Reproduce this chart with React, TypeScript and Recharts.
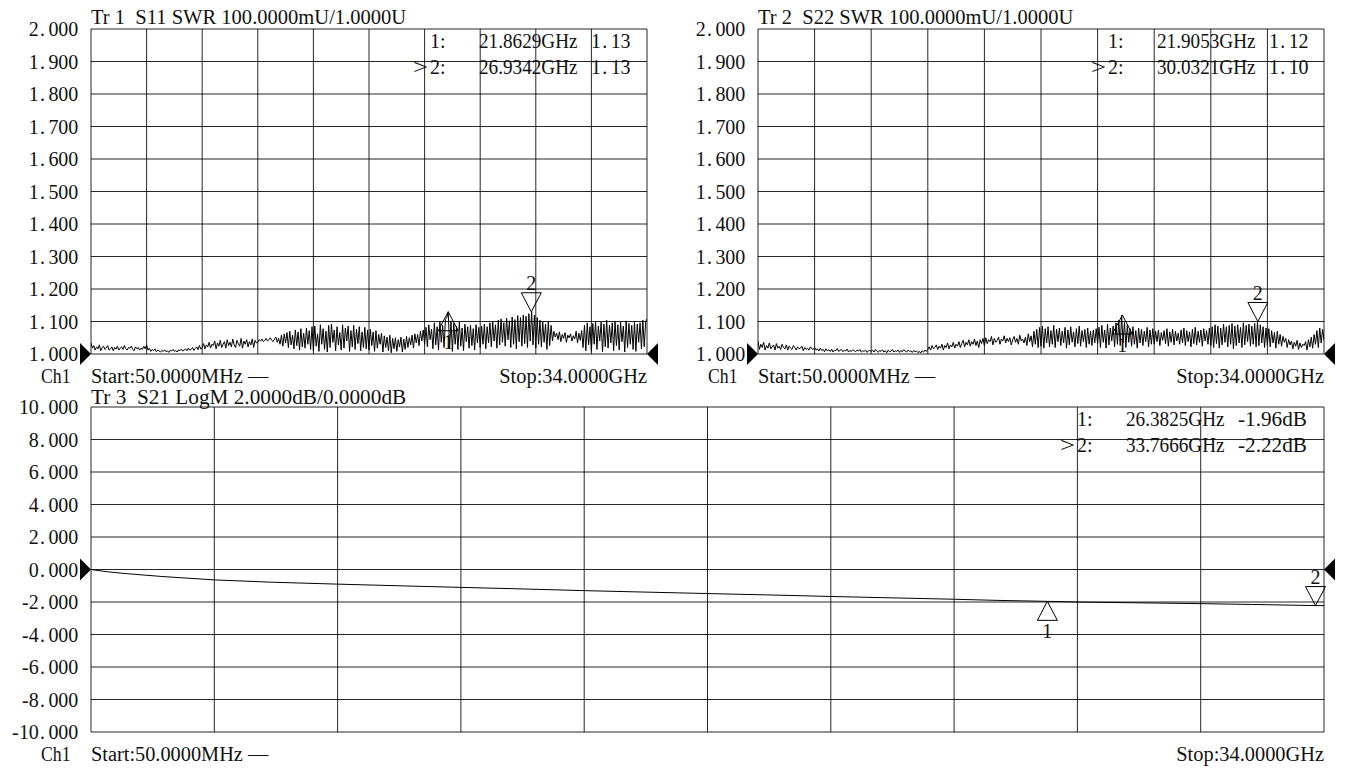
import React from "react";
import { LineChart, Line, XAxis, YAxis, CartesianGrid, ReferenceDot } from "recharts";

// sweep: 50 MHz .. 34 GHz, 401 points
const START_GHZ = 0.05;
const STOP_GHZ = 34;
const freqTicks = [0.05, 3.445, 6.84, 10.235, 13.63, 17.025, 20.42, 23.815, 27.21, 30.605, 34];
const swrTicks = [1.0, 1.1, 1.2, 1.3, 1.4, 1.5, 1.6, 1.7, 1.8, 1.9, 2.0];
const dbTicks = [-10, -8, -6, -4, -2, 0, 2, 4, 6, 8, 10];

// SWR minus 1, in thousandths, one value per sweep point (40 per division)
const s11Milli = [
  34, 18, 26, 12, 22, 16, 28, 10, 20, 24, 14, 18, 26, 12, 16, 22, 10, 20, 15, 24,
  12, 18, 22, 14, 26, 16, 12, 20, 18, 24, 14, 10, 22, 16, 20, 12, 18, 14, 24, 16,
  28, 12, 18, 8, 14, 10, 16, 7, 12, 9, 6, 11, 8, 13, 7, 10, 5, 12, 9, 14,
  8, 11, 6, 13, 10, 15, 9, 12, 16, 10, 18, 12, 14, 20, 11, 17, 22, 13, 26, 15,
  20, 32, 16, 28, 22, 36, 18, 30, 26, 40, 16, 34, 24, 42, 20, 30, 38, 18, 44, 26,
  36, 22, 46, 28, 20, 42, 32, 24, 48, 18, 40, 30, 44, 22, 38, 28, 46, 20, 42, 34,
  36, 44, 40, 46, 38, 42, 48, 40, 44, 50, 42, 38, 46, 52, 36, 48, 30, 58, 24, 62,
  34, 66, 20, 70, 28, 58, 16, 74, 26, 68, 12, 78, 22, 64, 18, 80, 30, 72, 14, 84,
  10, 86, 24, 62, 8, 90, 30, 78, 14, 70, 6, 88, 20, 92, 36, 74, 10, 84, 28, 66,
  12, 90, 18, 80, 40, 86, 8, 72, 22, 88, 14, 76, 32, 84, 10, 68, 20, 82, 16, 74,
  12, 76, 26, 68, 8, 72, 18, 60, 30, 64, 6, 56, 20, 52, 10, 58, 4, 48, 16, 50,
  8, 44, 22, 52, 6, 46, 14, 54, 20, 50, 28, 58, 18, 62, 34, 60, 26, 70, 40, 74,
  30, 82, 22, 90, 44, 76, 16, 96, 28, 84, 12, 100, 36, 88, 20, 106, 112, 130, 18, 102,
  8, 94, 30, 86, 14, 98, 24, 80, 10, 92, 38, 84, 18, 88, 26, 78, 12, 90, 34, 82,
  20, 86, 30, 92, 16, 84, 34, 96, 22, 100, 40, 90, 18, 104, 28, 108, 36, 96, 24, 110,
  44, 102, 20, 114, 30, 106, 16, 118, 38, 112, 24, 120, 32, 116, 20, 124, 40, 132, 28, 120,
  18, 112, 30, 104, 22, 98, 36, 92, 14, 100, 26, 88, 40, 70, 52, 64, 44, 68, 38, 60,
  48, 66, 36, 58, 50, 62, 40, 56, 46, 70, 34, 64, 42, 72, 20, 88, 10, 96, 28, 84,
  8, 94, 30, 100, 14, 86, 40, 98, 6, 92, 22, 104, 18, 88, 34, 96, 10, 100, 26, 90,
  12, 98, 38, 86, 6, 102, 20, 94, 30, 88, 14, 100, 8, 92, 36, 96, 16, 104, 22, 98,
  108,
];

const s22Milli = [
  40, 14, 30, 20, 36, 12, 26, 18, 34, 16, 22, 28, 12, 32, 18, 24, 14, 30, 20, 16,
  28, 12, 24, 18, 14, 26, 20, 12, 22, 16, 18, 24, 10, 20, 14, 18, 12, 22, 16, 14,
  20, 12, 16, 9, 18, 11, 14, 7, 16, 10, 13, 8, 15, 6, 12, 10, 17, 8, 11, 14,
  7, 12, 9, 15, 6, 11, 8, 13, 10, 7, 12, 9, 14, 6, 10, 8, 12, 5, 9, 11,
  8, 12, 6, 14, 9, 5, 11, 8, 13, 6, 10, 4, 12, 7, 9, 14, 6, 10, 8, 12,
  5, 11, 7, 13, 9, 6, 12, 8, 10, 5, 11, 7, 9, 4, 8, 3, 10, 6, 12, 8,
  14, 22, 12, 26, 16, 20, 28, 14, 24, 18, 30, 12, 26, 20, 34, 16, 28, 22, 36, 18,
  30, 24, 38, 20, 32, 42, 22, 36, 28, 44, 24, 38, 30, 46, 26, 40, 20, 44, 32, 48,
  26, 50, 32, 44, 38, 54, 28, 48, 36, 42, 52, 30, 46, 40, 56, 34, 48, 38, 50, 28,
  44, 54, 36, 48, 30, 58, 40, 46, 34, 52, 26, 62, 38, 56, 22, 70, 30, 76, 20, 82,
  24, 86, 18, 78, 34, 84, 22, 72, 30, 88, 20, 76, 38, 80, 26, 70, 34, 82, 18, 74,
  28, 84, 36, 68, 22, 78, 32, 86, 24, 72, 38, 76, 20, 80, 30, 70, 26, 74, 34, 78,
  32, 82, 20, 88, 36, 74, 18, 92, 28, 80, 40, 86, 22, 96, 30, 104, 26, 120, 34, 98,
  20, 90, 36, 78, 24, 84, 30, 72, 18, 80, 34, 76, 26, 70, 38, 82, 22, 74, 30, 78,
  30, 70, 38, 74, 26, 66, 42, 72, 32, 78, 24, 68, 36, 76, 28, 70, 40, 64, 30, 74,
  34, 80, 26, 72, 38, 68, 22, 76, 32, 82, 28, 70, 36, 74, 24, 78, 40, 72, 30, 80,
  26, 84, 20, 90, 32, 86, 18, 80, 28, 92, 36, 84, 22, 88, 30, 94, 16, 86, 26, 90,
  34, 82, 20, 96, 28, 88, 38, 92, 24, 86, 30, 94, 22, 100, 26, 90, 34, 84, 20, 80,
  28, 78, 22, 72, 34, 66, 18, 70, 30, 60, 24, 54, 36, 48, 20, 44, 28, 40, 16, 36,
  24, 42, 14, 34, 20, 30, 26, 38, 12, 44, 22, 52, 18, 60, 30, 72, 20, 80, 34, 76,
  42,
];

const s21Freq = [0.05, 0.5, 1, 2, 3.445, 5, 6.84, 8.5, 10.235, 12, 13.63, 15.5, 17.025, 19, 20.42, 22, 23.815, 25, 26.3825, 27.21, 28.5, 30.605, 32, 33.7666, 34];
const s21Db = [0, -0.14, -0.25, -0.43, -0.64, -0.78, -0.9, -1.0, -1.1, -1.2, -1.3, -1.4, -1.48, -1.58, -1.66, -1.74, -1.83, -1.9, -1.96, -2.0, -2.04, -2.1, -2.15, -2.22, -2.22];

const s11Markers = [
  { id: 1, f: 21.8629, v: 1.13 },
  { id: 2, f: 26.9342, v: 1.13 },
];
const s22Markers = [
  { id: 1, f: 21.9053, v: 1.12 },
  { id: 2, f: 30.0321, v: 1.1 },
];
const s21Markers = [
  { id: 1, f: 26.3825, v: -1.96 },
  { id: 2, f: 33.7666, v: -2.22 },
];

const FONT = '"Liberation Serif", "DejaVu Serif", serif';
const CH = 9.85; // width of one character cell on the analyzer screen
const INK = "#111";

const sweep = (vals: number[]) =>
  vals.map((m, i) => ({ f: START_GHZ + (i * (STOP_GHZ - START_GHZ)) / (vals.length - 1), v: 1 + m / 1000 }));

const s11Data = sweep(s11Milli);
const s22Data = sweep(s22Milli);
const s21Data = s21Freq.map((f, i) => ({ f, v: s21Db[i] }));

type Anchor = "start" | "middle" | "end";

// nudge narrow glyphs inside their cell
const cellShift = (c: string) => (c === "." || c === ":" ? 1.5 : c === "-" ? 3 : 0);

// text laid out in fixed character cells, like the analyzer's screen font
function Txt({ x, y, s, anchor = "start", len }: { x: number; y: number; s: string; anchor?: Anchor; len?: number }) {
  const common = { fontFamily: FONT, fontSize: 20, fill: INK, style: { whiteSpace: "pre" as const } };
  if (/^[-0-9.:]+$/.test(s) && s.length > 2) {
    const w = s.length * CH;
    const x0 = anchor === "end" ? x - w : anchor === "middle" ? x - w / 2 : x;
    const xs = s.split("").map((c, i) => (x0 + i * CH + cellShift(c)).toFixed(2)).join(" ");
    return (
      <text x={xs} y={y} {...common}>
        {s}
      </text>
    );
  }
  if (s.length <= 2 && len === undefined) {
    return (
      <text x={x} y={y} textAnchor={anchor} {...common}>
        {s}
      </text>
    );
  }
  return (
    <text
      x={x}
      y={y}
      textAnchor={anchor}
      textLength={len ?? s.length * CH}
      lengthAdjust={/[A-Za-z>]/.test(s) ? "spacingAndGlyphs" : "spacing"}
      {...common}
    >
      {s}
    </text>
  );
}

function YTick(props: any) {
  const { x, y, payload } = props;
  return <Txt x={x} y={y + 7} s={Number(payload.value).toFixed(3)} anchor="end" />;
}

// frequency axis has no labels, only grid divisions
const NoTick = () => <g />;

const levelShape = (side: "left" | "right") => (p: any) => {
  const { cx, cy } = p;
  const d = side === "left" ? -11 : 11;
  return <polygon points={`${cx},${cy} ${cx + d},${cy - 11} ${cx + d},${cy + 11}`} fill="#000" />;
};

const markerShape = (id: number) => (p: any) => {
  const { cx, cy } = p;
  if (id === 1) {
    return (
      <g>
        <polygon points={`${cx},${cy} ${cx - 10},${cy + 19} ${cx + 10},${cy + 19}`} fill="none" stroke="#000" strokeWidth={1} />
        <Txt x={cx} y={cy + 37} s={String(id)} anchor="middle" />
      </g>
    );
  }
  return (
    <g>
      <polygon points={`${cx},${cy} ${cx - 10},${cy - 19} ${cx + 10},${cy - 19}`} fill="none" stroke="#000" strokeWidth={1} />
      <Txt x={cx} y={cy - 22} s={String(id)} anchor="middle" />
    </g>
  );
};

interface PanelProps {
  left: number;
  top: number;
  width: number;
  height: number;
  margin: { top: number; right: number; bottom: number; left: number };
  yDomain: [number, number];
  yTicks: number[];
  data: { f: number; v: number }[];
  markers: { id: number; f: number; v: number }[];
  level: number;
}

function Panel({ left, top, width, height, margin, yDomain, yTicks, data, markers, level }: PanelProps) {
  return (
    <div style={{ position: "absolute", left, top }}>
      <LineChart width={width} height={height} data={data} margin={margin}>
        <CartesianGrid stroke="#000" strokeOpacity={0.85} />
        <XAxis
          type="number"
          dataKey="f"
          domain={[START_GHZ, STOP_GHZ]}
          ticks={freqTicks}
          interval={0}
          tick={NoTick}
          tickLine={false}
          axisLine={false}
          height={0}
          allowDataOverflow
        />
        <YAxis
          type="number"
          domain={yDomain}
          ticks={yTicks}
          interval={0}
          width={80}
          tick={YTick}
          tickLine={false}
          axisLine={false}
          tickSize={0}
          tickMargin={13}
          allowDataOverflow
        />
        <Line type="linear" dataKey="v" stroke="#000" strokeWidth={1} dot={false} isAnimationActive={false} />
        <ReferenceDot x={START_GHZ} y={level} ifOverflow="visible" shape={levelShape("left")} />
        <ReferenceDot x={STOP_GHZ} y={level} ifOverflow="visible" shape={levelShape("right")} />
        {markers.map((m) => (
          <ReferenceDot key={m.id} x={m.f} y={m.v} ifOverflow="visible" shape={markerShape(m.id)} />
        ))}
      </LineChart>
    </div>
  );
}

function Readout({ x, y, markers, unit }: { x: number; y: number; markers: { id: number; f: number; v: number }[]; unit: string }) {
  return (
    <g>
      {markers.map((m, i) => (
        <g key={m.id}>
          {i === 1 && <Txt x={x - 17} y={y + i * 26} s=">" len={15} />}
          <Txt x={x} y={y + i * 26} s={`${m.id}:`} />
          <Txt x={x + 49} y={y + i * 26} s={`${m.f.toFixed(4)}GHz`} />
          <Txt x={x + 161} y={y + i * 26} s={`${m.v.toFixed(2)}${unit}`} />
        </g>
      ))}
    </g>
  );
}

export default function App() {
  return (
    <div style={{ position: "absolute", left: 0, top: 0, width: 1348, height: 772, background: "#fff" }}>
      <Panel
        left={0}
        top={0}
        width={670}
        height={390}
        margin={{ top: 29, right: 23, bottom: 36, left: 11 }}
        yDomain={[1, 2]}
        yTicks={swrTicks}
        data={s11Data}
        markers={s11Markers}
        level={1}
      />
      <Panel
        left={670}
        top={0}
        width={678}
        height={390}
        margin={{ top: 29, right: 24, bottom: 36, left: 8 }}
        yDomain={[1, 2]}
        yTicks={swrTicks}
        data={s22Data}
        markers={s22Markers}
        level={1}
      />
      <Panel
        left={0}
        top={380}
        width={1348}
        height={392}
        margin={{ top: 27, right: 24, bottom: 40, left: 11 }}
        yDomain={[-10, 10]}
        yTicks={dbTicks}
        data={s21Data}
        markers={s21Markers}
        level={0}
      />
      <svg width={1348} height={772} style={{ position: "absolute", left: 0, top: 0, pointerEvents: "none" }}>
        <Txt x={91} y={24} s="Tr 1  S11 SWR 100.0000mU/1.0000U" />
        <Readout x={430} y={48} markers={s11Markers} unit="" />
        <Txt x={41} y={383} s="Ch1" />
        <Txt x={91} y={383} s="Start:50.0000MHz —" />
        <Txt x={647} y={383} s="Stop:34.0000GHz" anchor="end" />

        <Txt x={758} y={24} s="Tr 2  S22 SWR 100.0000mU/1.0000U" />
        <Readout x={1108} y={48} markers={s22Markers} unit="" />
        <Txt x={708} y={383} s="Ch1" />
        <Txt x={758} y={383} s="Start:50.0000MHz —" />
        <Txt x={1324} y={383} s="Stop:34.0000GHz" anchor="end" />

        <Txt x={91} y={404} s="Tr 3  S21 LogM 2.0000dB/0.0000dB" />
        <Readout x={1077} y={426} markers={s21Markers} unit="dB" />
        <Txt x={41} y={761} s="Ch1" />
        <Txt x={91} y={761} s="Start:50.0000MHz —" />
        <Txt x={1324} y={761} s="Stop:34.0000GHz" anchor="end" />
      </svg>
    </div>
  );
}
